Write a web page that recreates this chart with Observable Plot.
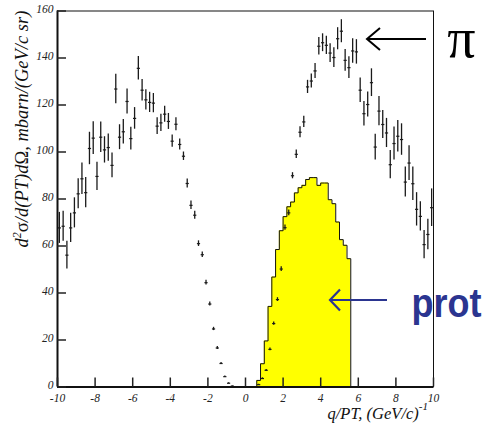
<!DOCTYPE html>
<html>
<head>
<meta charset="utf-8">
<script src="https://cdn.jsdelivr.net/npm/d3@7"></script>
<script src="https://cdn.jsdelivr.net/npm/@observablehq/plot@0.6"></script>
<style>
  html, body { margin: 0; padding: 0; background: white; }
  #chart { width: 484px; height: 423px; overflow: hidden; }
</style>
</head>
<body>
<div id="chart"></div>
<script>
// Pion data points (bin centres, values, errors)
const pionX = [
  -9.9,-9.7,-9.5,-9.3,-9.1,-8.9,-8.7,-8.5,-8.3,-8.1,-7.9,-7.7,-7.5,-7.3,-7.1,-6.9,-6.7,-6.5,-6.3,-6.1,
  -5.9,-5.7,-5.5,-5.3,-5.1,-4.9,-4.7,-4.5,-4.3,-4.1,-3.9,-3.7,-3.5,-3.3,-3.1,-2.9,-2.7,-2.5,-2.3,-2.1,
  -1.9,-1.7,-1.5,-1.3,-1.1,-0.9,-0.7,
  0.7,0.9,1.1,1.3,1.5,1.7,1.9,2.1,2.3,2.5,2.7,2.9,3.1,3.3,3.5,3.7,3.9,4.1,4.3,4.5,
  4.7,4.9,5.1,5.3,5.5,5.7,5.9,6.1,6.3,6.5,6.7,6.9,7.1,7.3,7.5,7.7,7.9,8.1,8.3,8.5,
  8.7,8.9,9.1,9.3,9.5,9.7,9.9
];
const pionY = [
  67.7,68.4,56.1,67.7,74.1,82.2,88.6,82.7,101.5,105.9,89.6,106.3,100.9,101.9,94.3,126.8,106.3,108.6,121.5,105.7,
  114.3,135.6,126.3,122.2,121.1,120.8,111.0,112.4,116.1,113.0,104.6,111.8,103.2,98.2,86.6,77.3,73.1,61.0,56.3,44.4,
  35.3,24.7,16.6,10.0,4.4,1.6,0.4,
  1.0,3.6,7.1,16.0,27.0,37.2,50.2,67.8,74.1,89.9,99.0,108.4,112.8,127.7,130.2,134.5,145.0,146.5,145.4,142.1,
  140.2,148.2,151.4,139.0,135.9,143.0,142.6,126.3,116.3,120.2,129.5,102.1,117.4,111.7,108.1,94.6,103.6,106.7,105.3,87.2,
  95.3,86.5,75.6,72.6,60.6,64.9,76.3
];
const pionErr = [
  6.6,6.4,5.9,6.2,6.4,6.4,6.7,6.4,6.9,7.0,6.0,6.5,5.6,5.8,5.3,6.3,5.3,5.2,5.3,4.8,
  4.6,5.0,4.6,4.3,4.3,4.1,3.6,3.7,3.4,3.4,2.6,2.8,2.3,1.8,1.9,1.8,1.7,1.2,1.2,1.0,
  0.85,0.7,0.6,0.4,0.3,0.2,0.1,
  0.2,0.3,0.4,0.6,0.7,0.8,1.0,1.1,1.2,1.3,1.8,2.3,2.4,2.8,3.0,3.2,3.7,3.8,3.9,4.0,
  4.2,4.7,4.9,4.6,4.6,5.2,5.2,5.2,5.2,5.3,5.9,5.5,6.2,6.0,6.2,6.0,7.0,6.7,6.7,6.4,
  7.4,7.1,7.1,6.2,6.0,6.5,8.0
];
// Proton histogram (bin lower edges, contents), bin width 0.2
const protX = [0.6,0.8,1.0,1.2,1.4,1.6,1.8,2.0,2.2,2.4,2.6,2.8,3.0,3.2,3.4,3.6,3.8,4.0,4.2,4.4,4.6,4.8,5.0,5.2,5.4];
const protY = [2.8,9.9,19.6,34.3,46.8,58.5,66.5,72.5,76.7,78.7,82.6,84.8,85.8,88.3,89.1,89.1,85.8,86.8,86.8,79.7,78.0,70.2,62.7,60.3,54.6];
const binWidth = 0.2;

const xTicks = [-10,-8,-6,-4,-2,0,2,4,6,8,10];
const yTicks = [0,20,40,60,80,100,120,140,160];

const pions = pionX.map((x, i) => ({x, y: pionY[i], e: pionErr[i]}));
const protEnd = protX[protX.length - 1] + binWidth;
const outline = [{x: protX[0], y: 0}]
  .concat(protX.map((x, i) => ({x, y: protY[i]})))
  .concat([{x: protEnd, y: 0}]);

const W = 484, H = 423;
const mL = 57, mR = 51, mT = 10.5, mB = 36.5;
const plotW = W - mL - mR, plotH = H - mT - mB;
const tickLen = 9;

const chart = Plot.plot({
  width: W, height: H,
  marginLeft: mL, marginRight: mR, marginTop: mT, marginBottom: mB,
  x: {domain: [-10, 10]},
  y: {domain: [0, 160]},
  style: {background: "white", fontFamily: "'Liberation Serif', serif", fontStyle: "italic", fontSize: "11.5px", color: "#222"},
  marks: [
    Plot.areaY(outline, {x: "x", y: "y", curve: "step-after", fill: "#ffff00"}),
    Plot.line(outline, {x: "x", y: "y", curve: "step-after", stroke: "#111", strokeWidth: 1}),
    Plot.ruleX(pions, {x: "x", y1: d => d.y - d.e, y2: d => d.y + d.e, stroke: "#1a1a1a", strokeWidth: 1.3}),
    Plot.link(pions, {x1: d => d.x - 0.085, x2: d => d.x + 0.085, y1: "y", y2: "y", stroke: "#1a1a1a", strokeWidth: 1.2}),
    Plot.frame({stroke: "#111", strokeWidth: 1}),
    Plot.ruleX([-10], {stroke: "#111", strokeWidth: 2}),
    Plot.ruleY([0], {stroke: "#111", strokeWidth: 2}),
    Plot.ruleX(xTicks, {insetTop: plotH - tickLen, stroke: "#222", strokeWidth: 1.5}),
    Plot.ruleY(yTicks, {insetRight: plotW - tickLen, stroke: "#222", strokeWidth: 1.5}),
    Plot.axisX({ticks: xTicks, tickSize: 0, tickPadding: 7, tickFormat: d => String(d), label: null}),
    Plot.axisY({ticks: yTicks, tickSize: 0, tickPadding: 4, dy: -1.5, tickFormat: d => String(d), label: null})
  ]
});

document.getElementById("chart").appendChild(chart);

const svg = d3.select(chart);
const serif = "'Liberation Serif', serif";

// Y axis title
const yl = svg.append("text")
  .attr("transform", "translate(28,129) rotate(-90)")
  .attr("text-anchor", "middle")
  .attr("font-family", serif)
  .attr("font-size", 18.5)
  .attr("fill", "#111");
yl.append("tspan").attr("font-style", "italic").text("d");
yl.append("tspan").attr("font-style", "italic").attr("font-size", 12).attr("dy", -7).text("2");
yl.append("tspan").attr("font-style", "normal").attr("dy", 7).text("σ");
yl.append("tspan").attr("font-style", "italic").text("/d(PT)d");
yl.append("tspan").attr("font-style", "normal").text("Ω");
yl.append("tspan").attr("font-style", "italic").text(", mbarn/(GeV/c sr)");

// X axis title
const xl = svg.append("text")
  .attr("x", 428).attr("y", 419.1)
  .attr("text-anchor", "end")
  .attr("font-family", serif)
  .attr("font-style", "italic")
  .attr("font-size", 16.5)
  .attr("fill", "#111");
xl.append("tspan").text("q/PT, (GeV/c)");
xl.append("tspan").attr("font-size", 11).attr("dy", -9).text("-1");

// pi annotation
svg.append("path").attr("d", "M426,39 L367,39 M380,28 L367,39 L380,50")
  .attr("fill", "none").attr("stroke", "#000").attr("stroke-width", 2);
svg.append("text").attr("x", 461.5).attr("y", 57).attr("text-anchor", "middle")
  .attr("font-family", serif).attr("font-style", "normal").attr("font-size", 56)
  .attr("fill", "#000").text("π");

// proton annotation
const blue = "#2b3590";
svg.append("path").attr("d", "M387,300 L330,300 M340,289.5 L330,300 L340,310.5")
  .attr("fill", "none").attr("stroke", blue).attr("stroke-width", 2.2);
svg.append("g").attr("transform", "translate(411.5,317) scale(1,1.15)")
  .append("text").attr("x", 0).attr("y", 0).attr("text-anchor", "start")
  .attr("font-family", "'Liberation Sans', Arial, sans-serif").attr("font-weight", "bold")
  .attr("font-style", "normal")
  .attr("font-size", 36)
  .attr("fill", blue).text("prot");
</script>
</body>
</html>
